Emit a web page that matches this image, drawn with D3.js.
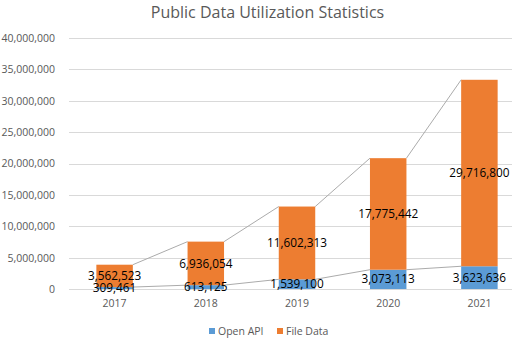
<!DOCTYPE html>
<html>
<head>
<meta charset="utf-8">
<script src="https://cdn.jsdelivr.net/npm/d3@7"></script>
<style>
  html, body { margin: 0; padding: 0; background: #fff; }
  svg { display: block; }
</style>
</head>
<body>
<svg id="chart" width="512" height="341"></svg>
<script>
const years = ["2017", "2018", "2019", "2020", "2021"];
const openApi = [309461, 613125, 1539100, 3073113, 3623636];
const fileData = [3562523, 6936054, 11602313, 17775442, 29716800];
const yTicks = [0, 5000000, 10000000, 15000000, 20000000, 25000000, 30000000, 35000000, 40000000];
const seriesNames = ["Open API", "File Data"];
const seriesColors = ["#5B9BD5", "#ED7D31"];
const title = "Public Data Utilization Statistics";

const svg = d3.select("#chart");
const W = 512, H = 341;
const fontFam = "'Open Sans', 'DejaVu Sans', sans-serif";

const x = d3.scaleBand().domain(years).range([69, 525]).paddingInner(0.6).paddingOuter(0.3);
const y = d3.scaleLinear().domain([0, 40000000]).range([289, 38]);

// gridlines
svg.append("g").selectAll("line").data(yTicks).join("line")
  .attr("x1", 69).attr("x2", W)
  .attr("y1", d => Math.round(y(d)) + 0.5).attr("y2", d => Math.round(y(d)) + 0.5)
  .attr("stroke", "#D9D9D9").attr("stroke-width", 1);

// y axis labels
const fmt = d3.format(",");
const yAxis = d3.axisLeft(y).tickValues(yTicks).tickFormat(fmt).tickSize(0).tickPadding(0);
const yg = svg.append("g").attr("transform", "translate(55,0)").call(yAxis);
yg.select(".domain").remove();
yg.selectAll("text").attr("fill", "#595959").style("font-family", fontFam).style("font-size", "10.5px");

// x axis labels
const xAxis = d3.axisBottom(x).tickSize(0).tickPadding(0);
const xg = svg.append("g").attr("transform", "translate(0,300)").call(xAxis);
xg.select(".domain").remove();
xg.selectAll("text").attr("fill", "#595959").style("font-family", fontFam).style("font-size", "10.5px");

// stack
const rows = years.map((yr, i) => ({ year: yr, "Open API": openApi[i], "File Data": fileData[i] }));
const stacked = d3.stack().keys(seriesNames)(rows);

// series lines
const lineG = svg.append("g");
stacked.forEach(s => {
  for (let i = 0; i < s.length - 1; i++) {
    lineG.append("line")
      .attr("x1", x(years[i]) + x.bandwidth()).attr("y1", y(s[i][1]))
      .attr("x2", x(years[i + 1])).attr("y2", y(s[i + 1][1]))
      .attr("stroke", "#ABABAB").attr("stroke-width", 1);
  }
});

// bars
stacked.forEach((s, si) => {
  svg.append("g").selectAll("rect").data(s).join("rect")
    .attr("x", d => x(d.data.year))
    .attr("width", x.bandwidth())
    .attr("y", d => y(d[1]))
    .attr("height", d => y(d[0]) - y(d[1]))
    .attr("fill", seriesColors[si]);
});

// data labels
stacked.forEach((s, si) => {
  svg.append("g").selectAll("text").data(s).join("text")
    .attr("x", d => x(d.data.year) + x.bandwidth() / 2)
    .attr("y", d => y((d[0] + d[1]) / 2))
    .attr("dy", "0.35em")
    .attr("text-anchor", "middle")
    .attr("fill", "#000")
    .style("font-family", fontFam).style("font-size", "11.8px")
    .text(d => fmt(d[1] - d[0]));
});

// title
svg.append("text").attr("x", 267.5).attr("y", 18).attr("text-anchor", "middle")
  .attr("fill", "#595959").style("font-family", fontFam).style("font-size", "16px")
  .text(title);

// legend
const legend = svg.append("g");
const legendX = [209, 277];
seriesNames.forEach((n, i) => {
  legend.append("rect").attr("x", legendX[i]).attr("y", 328).attr("width", 6).attr("height", 6).attr("fill", seriesColors[i]);
  legend.append("text").attr("x", legendX[i] + 9).attr("y", 335)
    .attr("fill", "#595959").style("font-family", fontFam).style("font-size", "10.5px").text(n);
});
</script>
</body>
</html>
